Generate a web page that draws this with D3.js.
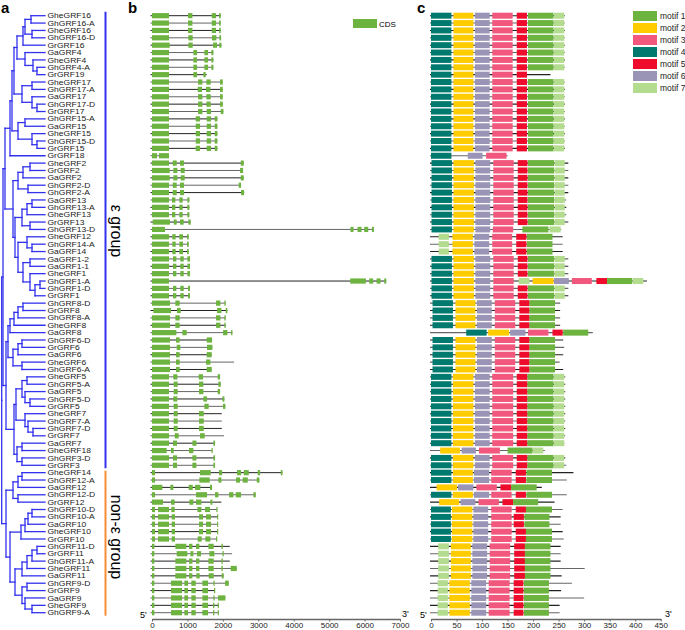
<!DOCTYPE html>
<html><head><meta charset="utf-8">
<script src="https://cdn.jsdelivr.net/npm/d3@7"></script>
<style>body{margin:0;background:#fff}svg{display:block}text{font-family:"Liberation Sans",Arial,sans-serif}</style>
</head><body><svg id="c" width="685" height="630"></svg>
<script>
// ---------------- DATA ----------------
const genes = ["GheGRF16","GhGRF16-A","GheGRF16","GhGRF16-D","GrGRF16","GaGRF4","GheGRF4","GhGRF4-A","GrGRF19","GheGRF17","GhGRF17-A","GaGRF17","GhGRF17-D","GrGRF17","GhGRF15-A","GaGRF15","GheGRF15","GhGRF15-D","GrGRF15","GrGRF18","GheGRF2","GrGRF2","GaGRF2","GhGRF2-D","GhGRF2-A","GaGRF13","GhGRF13-A","GheGRF13","GrGRF13","GhGRF13-D","GheGRF12","GhGRF14-A","GaGRF14","GaGRF1-2","GaGRF1-1","GheGRF1","GhGRF1-A","GhGRF1-D","GrGRF1","GhGRF8-D","GrGRF8","GhGRF8-A","GheGRF8","GaGRF8","GhGRF6-D","GrGRF6","GaGRF6","GheGRF6","GhGRF6-A","GheGRF5","GhGRF5-A","GaGRF5","GhGRF5-D","GrGRF5","GheGRF7","GhGRF7-A","GhGRF7-D","GrGRF7","GaGRF7","GheGRF18","GhGRF3-D","GrGRF3","GheGRF14","GhGRF12-A","GaGRF12","GhGRF12-D","GrGRF12","GhGRF10-D","GhGRF10-A","GaGRF10","GheGRF10","GrGRF10","GhGRF11-D","GrGRF11","GhGRF11-A","GheGRF11","GaGRF11","GhGRF9-D","GrGRF9","GaGRF9","GheGRF9","GhGRF9-A"];

// Phylogeny (Newick, branch lengths in tree units)
const cladeGRF16 = "(((GheGRF16,GhGRF16-A):6,(GheGRF16,GhGRF16-D):7):2,GrGRF16):6";
const cladeGRF4  = "(GaGRF4,(GheGRF4,(GhGRF4-A,GrGRF19):4):8):8";
const cladeGRF17 = "((GheGRF17,GhGRF17-A):10,(GaGRF17,(GhGRF17-D,GrGRF17):5):10):8";
const cladeGRF15 = "((GhGRF15-A,GaGRF15):7,(GheGRF15,(GhGRF15-D,GrGRF15):5):14):6";
const cladeGRF2  = "(((GheGRF2,GrGRF2):7,GaGRF2):5,(GhGRF2-D,GhGRF2-A):10):5";
const cladeGRF13 = "(((GaGRF13,GhGRF13-A):5,GheGRF13):5,(GrGRF13,GhGRF13-D):8):7";
const cladeGRF1  = "((GheGRF12,(GhGRF14-A,GaGRF14):5):9,((GaGRF1-2,GaGRF1-1):7,(GheGRF1,((GhGRF1-A,GhGRF1-D):5,GrGRF1):5):7):5):3";
const cladeGRF8  = "((((GhGRF8-D,GrGRF8):5,GhGRF8-A):4,GheGRF8):4,GaGRF8):2";
const cladeGRF6  = "(((GhGRF6-D,GrGRF6):4,GaGRF6):5,(GheGRF6,GhGRF6-A):9):5";
const cladeGRF5  = "((GheGRF5,GhGRF5-A):5,(GaGRF5,(GhGRF5-D,GrGRF5):5):3):6";
const cladeGRF7  = "(GheGRF7,(GhGRF7-A,(GhGRF7-D,GrGRF7):5):3):9";
const cladeGRF3  = "((GaGRF7,GheGRF18):5,(GhGRF3-D,GrGRF3):5):3";
const cladeGRF12 = "(((GheGRF14,GhGRF12-A):4,GaGRF12):5,(GhGRF12-D,GrGRF12):5):7";
const cladeGRF10 = "((((GhGRF10-D,GhGRF10-A):4,GaGRF10):3,GheGRF10):4,GrGRF10):11";
const cladeGRF11 = "((((GhGRF11-D,GrGRF11):5,GhGRF11-A):5,GheGRF11):5,GaGRF11):7";
const cladeGRF9  = "((GhGRF9-D,GrGRF9):5,(GaGRF9,(GheGRF9,GhGRF9-A):7):3):7";
const newick =
  "((((((((" + cladeGRF16 + "," + cladeGRF4 + "):3," + cladeGRF17 + "):2," + cladeGRF15 + "):2,GrGRF18):5," +
  "(" + cladeGRF2 + ",(" + cladeGRF13 + "," + cladeGRF1 + "):2):8):2," +
  "((" + cladeGRF8 + "," + cladeGRF6 + "):2,((" + cladeGRF5 + "," + cladeGRF7 + "):2," + cladeGRF3 + "):8):3):1.3," +
  "(" + cladeGRF12 + ",(" + cladeGRF10 + ",(" + cladeGRF11 + "," + cladeGRF9 + "):5):4):4.3);";

// Gene structures: CDS segments [start, end] in bp
const exons = [
 [[0,480],[1017,1140],[1686,1808],[1893,1940]],
 [[0,480],[1017,1140],[1686,1808],[1893,1940]],
 [[0,480],[1017,1140],[1686,1808],[1893,1940]],
 [[0,480],[1026,1149],[1695,1817],[1902,1950]],
 [[0,500],[1026,1149],[1723,1836],[1902,1959]],
 [[0,480],[1168,1271],[1478,1582],[1676,1733]],
 [[0,480],[1168,1271],[1478,1582],[1676,1733]],
 [[0,480],[1168,1271],[1478,1582],[1676,1733]],
 [[0,480],[1168,1271],[1450,1516]],
 [[0,480],[1300,1422],[1535,1657],[1921,1997]],
 [[0,480],[1290,1412],[1525,1648],[1921,1997]],
 [[0,480],[1300,1422],[1535,1657],[1921,1997]],
 [[0,480],[1300,1422],[1535,1657],[1921,1997]],
 [[0,480],[1300,1422],[1544,1666],[1940,2015]],
 [[0,480],[1234,1356],[1544,1666],[1770,1846]],
 [[0,480],[1234,1356],[1544,1666],[1770,1846]],
 [[0,480],[1234,1356],[1544,1666],[1770,1846]],
 [[0,480],[1234,1356],[1544,1666],[1770,1846]],
 [[0,480],[1234,1356],[1544,1666],[1770,1846]],
 [[0,141],[198,480]],
 [[0,480],[584,697],[791,904],[2505,2590]],
 [[0,500],[603,716],[810,923],[2486,2570]],
 [[0,500],[603,716],[810,923],[2505,2590]],
 [[0,480],[584,697],[791,904],[2448,2514]],
 [[0,480],[584,697],[791,904],[2514,2600]],
 [[0,480],[565,659],[772,866],[998,1055]],
 [[0,480],[565,659],[772,866],[998,1055]],
 [[0,480],[565,659],[772,866],[998,1055]],
 [[20,508],[612,697],[791,895],[1026,1092]],
 [[0,367],[5603,5688],[5801,5914],[5990,6104],[6207,6264]],
 [[0,480],[574,668],[772,875],[988,1036]],
 [[0,480],[574,668],[772,875],[988,1036]],
 [[0,480],[574,668],[772,875],[988,1036]],
 [[0,480],[593,687],[800,895],[998,1073]],
 [[0,480],[593,687],[800,895],[998,1073]],
 [[0,480],[593,687],[800,895],[998,1073]],
 [[0,480],[5594,6037],[6131,6244],[6339,6452],[6556,6612]],
 [[0,480],[593,687],[800,895],[1017,1073]],
 [[0,480],[593,687],[800,895],[1017,1073]],
 [[0,508],[659,781],[1808,1930],[2043,2081]],
 [[38,537],[706,810],[1836,1959],[2081,2128]],
 [[0,508],[659,781],[1808,1930],[2043,2081]],
 [[0,508],[659,781],[1808,1930],[2043,2081]],
 [[0,687],[857,979],[2006,2128],[2232,2270]],
 [[0,508],[678,781],[1544,1695]],
 [[0,508],[697,800],[1553,1704]],
 [[0,508],[678,781],[1544,1685]],
 [[0,508],[678,781],[1525,1648]],
 [[0,508],[678,781],[1544,1685]],
 [[0,480],[602,715],[1318,1441],[1855,1921]],
 [[0,480],[612,725],[1328,1450],[1874,1940]],
 [[0,480],[612,725],[1328,1450],[1855,1921]],
 [[0,480],[602,715],[1450,1554],[1987,2043]],
 [[0,480],[612,725],[1478,1600],[2005,2071]],
 [[0,480],[612,725],[1328,1460]],
 [[0,480],[612,725],[1328,1460]],
 [[0,480],[612,725],[1328,1460]],
 [[0,480],[640,753],[1356,1488]],
 [[0,480],[593,706],[1140,1253],[1733,1780]],
 [[0,414],[536,612],[1045,1168],[1680,1705]],
 [[0,480],[593,706],[1140,1253],[1733,1780]],
 [[0,480],[593,706],[1140,1253],[1733,1780]],
 [[0,85],[1356,1657],[1893,1978],[2401,2514],[2590,2731],[2985,3051],[3635,3682]],
 [[0,85],[1337,1629],[1874,1959],[2373,2486],[2561,2703],[2957,3032]],
 [[0,292],[518,602],[1036,1149],[1215,1365],[1638,1695]],
 [[0,85],[1243,1554],[1780,1874],[2176,2298],[2364,2514],[2863,2929]],
 [[0,311],[537,640],[1055,1168],[1243,1394],[1648,1705]],
 [[0,85],[170,480],[546,640],[1281,1394],[1497,1638],[1817,1836]],
 [[0,85],[170,480],[555,650],[1328,1441],[1525,1666],[1836,1855]],
 [[0,85],[170,480],[555,650],[1328,1441],[1525,1666],[1836,1855]],
 [[0,85],[170,480],[555,650],[1328,1441],[1525,1666],[1836,1855]],
 [[0,85],[170,480],[555,650],[1290,1403],[1506,1648],[1808,1836]],
 [[0,66],[659,970],[1045,1140],[1243,1337],[1591,1742],[1959,1997]],
 [[0,66],[697,998],[1083,1167],[1271,1384],[1619,1761],[1987,2024]],
 [[0,66],[659,970],[1045,1140],[1243,1337],[1591,1742],[1959,1997]],
 [[0,66],[659,970],[1045,1140],[1243,1337],[1591,1742],[1959,1997],[2222,2392]],
 [[0,66],[659,970],[1045,1140],[1252,1346],[1600,1742],[1968,2024]],
 [[0,66],[537,847],[913,1017],[1111,1234],[1422,1582],[1733,1761],[2063,2167]],
 [[0,66],[537,847],[913,1017],[1111,1234],[1422,1582],[1751,1780]],
 [[0,66],[537,847],[913,1017],[1111,1234],[1422,1582],[1733,1761],[1865,2072]],
 [[0,66],[537,847],[913,1017],[1111,1234],[1422,1582],[1723,1761],[1855,1883]],
 [[0,66],[537,847],[913,1017],[1111,1234],[1422,1582],[1723,1761],[1855,1883]]
];
// intron/UTR tails beyond the last CDS (row index -> bp)
const geneTail = {8:1544, 47:2317, 54:1969, 55:1969, 56:1969, 57:2034, 66:1959, 72:2195, 73:2261, 74:2195};

// Protein motif layouts: [motif, start aa, end aa]
const mA  = [[4,0,40],[2,44,83],[6,86,115],[3,120,160],[5,168,188],[1,190,240],[7,241,261]];
const mA9 = [[4,0,40],[2,44,83],[6,86,115],[3,120,160],[5,168,188]];
const m20 = [[4,0,40],[6,72,101],[3,108,148]];
const mB  = [[4,1,41],[2,44,84],[6,87,116],[3,122,162],[5,170,189],[1,190,241],[7,242,262]];
const m30 = [[4,1,41],[2,44,84],[6,87,116],[3,121,161],[1,179,230],[7,232,254]];
const mC  = [[7,15,35],[2,42,82],[6,85,114],[3,120,159],[5,167,187],[1,188,238]];
const m37 = [[4,1,41],[2,44,84],[6,87,116],[3,122,162],[7,172,193],[2,199,240],[6,241,270],[3,276,315],[5,324,345],[1,345,394],[7,395,416]];
const mD  = [[4,3,43],[2,48,87],[6,90,119],[3,125,165],[5,173,193],[1,193,243]];
const m44 = [[4,69,109],[2,112,153],[6,155,185],[3,190,230],[5,238,258],[1,259,308]];
const mE  = [[4,0,40],[2,43,83],[6,86,115],[3,120,161],[5,168,189],[1,189,240],[7,241,261]];
const m60 = [[2,18,57],[6,60,88],[3,94,135],[1,150,199],[7,200,220]];
const mF  = [[4,0,40],[2,43,82],[6,84,114],[3,118,158],[5,166,186],[1,187,237]];
const m65 = [[2,11,51],[6,53,83],[3,89,129],[5,136,157],[1,157,207]];
const m67 = [[2,16,55],[6,58,87],[3,93,133],[5,140,161],[1,161,210]];
const mG  = [[4,0,39],[2,41,81],[6,83,112],[3,118,158],[5,166,186],[1,186,237]];
const mG2 = [[4,0,39],[2,41,81],[6,83,112],[3,118,158],[5,162,182],[1,183,232]];
const mH  = [[7,14,35],[2,39,78],[6,81,110],[3,115,155],[5,163,184],[1,184,234]];
const mH2 = [[7,13,33],[2,36,76],[6,79,108],[3,113,154],[5,162,181],[1,182,231]];
const motifRows = [mA,mA,mA,mA,mA,mA,mA,mA,mA9,mA,mA,mA,mA,mA,mA,mA,mA,mA,mA,m20,
  mB,mB,mB,mB,mB,mB,mB,mB,mB,m30,mC,mC,mC,mB,mB,mB,m37,mB,mB,
  mD,mD,mD,mD,m44,mD,mD,mD,mD,mD,
  mE,mE,mE,mE,mE,mE,mE,mE,mE,mE,m60,mE,mE,
  mF,mF,m65,mF,m67,mG,mG2,mG2,mG,mG,
  mH,mH,mH,mH,mH,mH2,mH2,mH2,mH2,mH2];
const protLen = [262,262,262,262,262,262,262,262,234,262,262,262,262,262,262,262,262,262,262,150,
  269,269,269,269,269,265,265,265,269,255,258,258,258,269,269,269,423,269,269,
  253,253,253,253,317,259,261,259,252,259,
  263,263,263,263,263,263,263,263,263,261,223,263,265,
  279,266,217,266,242,258,254,254,258,260,
  254,254,254,301,256,276,255,300,252,252];

const motifNames = ["motif 1","motif 2","motif 3","motif 4","motif 5","motif 6","motif 7"];
const motifColors = ["#6db33f","#ffcc00","#f2587d","#007a6e","#ee0b2b","#9a94b6","#b3dc8e"];
const bTicks = [0,1000,2000,3000,4000,5000,6000,7000];
const cTicks = [0,50,100,150,200,250,300,350,400,450];

// ---------------- DRAW ----------------
const svg = d3.select("#c");
const rowY = d3.scaleLinear().domain([0, genes.length-1]).range([15.7, 612.7]);
const xTree = d3.scaleLinear().domain([0, 43.3]).range([1.7, 45]);
const xB = d3.scaleLinear().domain([0,7000]).range([152,400]);
const xC = d3.scaleLinear().domain([0,450]).range([431,660.7]);
const BLUE = "#3232ee", ORANGE = "#f78c34";

// panel letters
[["a",1,12.5],["b",128,13],["c",417,13]].forEach(([t,x,y]) =>
  svg.append("text").attr("x",x).attr("y",y).attr("font-size",15).attr("font-weight","bold").text(t));

// ---- tree ----
function parseNewick(s){
  let i=0;
  function node(){
    const n={};
    if(s[i]==="("){ n.children=[]; i++; n.children.push(node());
      while(s[i]===","){ i++; n.children.push(node()); } i++; }
    let name=""; while(i<s.length && !",():;".includes(s[i])) name+=s[i++];
    n.name=name;
    if(s[i]===":"){ i++; let num=""; while(i<s.length && !",();".includes(s[i])) num+=s[i++]; n.length=+num; }
    return n;
  }
  return node();
}
const root = d3.hierarchy(parseNewick(newick));
root.each(d => { d.dist = d.parent ? d.parent.dist + (d.children ? (d.data.length||0) : 0) : 0; });
let li=0;
root.eachAfter(d => {
  if(!d.children){ d.py = rowY(li++); d.px = xTree.range()[1]; }
  else { d.py = (d.children[0].py + d.children[d.children.length-1].py)/2; d.px = xTree(d.dist); }
});
root.children.forEach((c,k) => c.each(d => d.col = k===0 ? BLUE : ORANGE));
root.col = BLUE;
const gT = svg.append("g").attr("fill","none").attr("stroke-width",1.3).attr("stroke-linecap","square");
root.descendants().forEach(d => {
  if(d.parent) gT.append("line").attr("x1",d.parent.px).attr("x2",d.px).attr("y1",d.py).attr("y2",d.py).attr("stroke",d.col);
  if(d.children) gT.append("line").attr("x1",d.px).attr("x2",d.px)
      .attr("y1",d.children[0].py).attr("y2",d.children[d.children.length-1].py).attr("stroke",d.col);
});
svg.append("g").selectAll("text").data(genes).join("text")
  .attr("transform",(d,i)=>`translate(47.5,${rowY(i)+2.6}) scale(1.2,1)`)
  .attr("font-size",7.1).attr("fill","#222").text(d=>d);

// group brackets
svg.append("line").attr("x1",105.5).attr("x2",105.5).attr("y1",rowY(0)-4).attr("y2",rowY(61)+3).attr("stroke",BLUE).attr("stroke-width",2);
svg.append("line").attr("x1",105.5).attr("x2",105.5).attr("y1",rowY(62)-2).attr("y2",rowY(81)+3).attr("stroke",ORANGE).attr("stroke-width",2);
svg.append("text").attr("transform","translate(111,231) rotate(90)").attr("text-anchor","middle").attr("font-size",16).text("ε group");
svg.append("text").attr("transform","translate(111,537) rotate(90)").attr("text-anchor","middle").attr("font-size",16).text("non-ε group");

// ---- panel b: gene structure ----
const gB = svg.append("g");
exons.forEach((ex,i) => {
  const y = rowY(i);
  const end = Math.max(d3.max(ex, e=>e[1]), geneTail[i]||0);
  gB.append("line").attr("x1",xB(0)-1.5).attr("x2",xB(end)).attr("y1",y).attr("y2",y).attr("stroke", i%2 ? "#666" : "#222").attr("stroke-width",1);
  gB.selectAll(null).data(ex).join("rect").attr("x",e=>xB(e[0])).attr("width",e=>Math.max(1.2,xB(e[1])-xB(e[0])))
    .attr("y",y-2.6).attr("height",5.2).attr("fill","#6db33f");
});
const axB = svg.append("g").attr("transform","translate(0,619)")
  .call(d3.axisBottom(xB).tickValues(bTicks).tickFormat(d3.format("d")).tickSize(2.5).tickPadding(0.5).tickSizeOuter(0));
axB.select(".domain").attr("stroke","#666").attr("stroke-width",1.3);
axB.selectAll(".tick line").attr("stroke","#666");
axB.selectAll("text").attr("font-size",8).attr("font-family","Liberation Sans, Arial, sans-serif").attr("fill","#222");
svg.append("text").attr("x",140).attr("y",617.5).attr("font-size",9).text("5'");
svg.append("text").attr("x",402).attr("y",617).attr("font-size",9).text("3'");
svg.append("rect").attr("x",353).attr("y",19).attr("width",24).attr("height",9).attr("fill","#6db33f");
svg.append("text").attr("x",379).attr("y",27).attr("font-size",8).text("CDS");

// ---- panel c: motifs ----
const gC = svg.append("g");
motifRows.forEach((ms,i) => {
  const y = rowY(i);
  gC.append("line").attr("x1",xC(0)-1).attr("x2",xC(protLen[i])).attr("y1",y).attr("y2",y).attr("stroke", i%2 ? "#666" : "#222").attr("stroke-width",1.1);
  gC.selectAll(null).data(ms).join("rect").attr("x",m=>xC(m[1])).attr("width",m=>xC(m[2])-xC(m[1]))
    .attr("y",y-3).attr("height",6).attr("fill",m=>motifColors[m[0]-1]);
});
const axC = svg.append("g").attr("transform","translate(0,619)")
  .call(d3.axisBottom(xC).tickValues(cTicks).tickFormat(d3.format("d")).tickSize(2.5).tickPadding(0.5).tickSizeOuter(0));
axC.select(".domain").attr("stroke","#666").attr("stroke-width",1.3);
axC.selectAll(".tick line").attr("stroke","#666");
axC.selectAll("text").attr("font-size",8).attr("font-family","Liberation Sans, Arial, sans-serif").attr("fill","#222");
svg.append("text").attr("x",420).attr("y",617.5).attr("font-size",9).text("5'");
svg.append("text").attr("x",665).attr("y",617).attr("font-size",9).text("3'");
const lg = svg.append("g").selectAll("g").data(motifNames).join("g").attr("transform",(d,i)=>`translate(633,${11+i*12})`);
lg.append("rect").attr("width",24).attr("height",10).attr("fill",(d,i)=>motifColors[i]);
lg.append("text").attr("x",27).attr("y",8).attr("font-size",8.5).attr("fill","#222").text(d=>d);
</script></body></html>
